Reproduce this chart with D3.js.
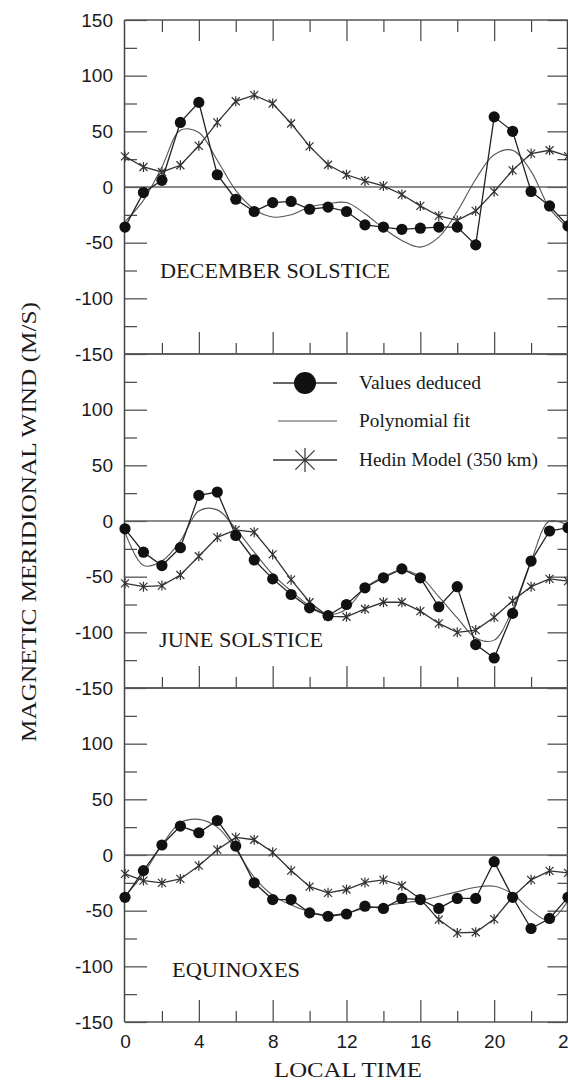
<!DOCTYPE html>
<html>
<head>
<meta charset="utf-8">
<script src="https://cdn.jsdelivr.net/npm/d3@7"></script>
<style>
  body { margin: 0; background: #fff; }
  svg { display: block; }
  .tick text { font-family: "Liberation Sans", Arial, sans-serif; font-size: 19px; fill: #1a1a1a; }
  .tick line { stroke: #444; stroke-width: 1.2; }
  .serif { font-family: "Liberation Serif", "Times New Roman", serif; fill: #1a1a1a; }
</style>
</head>
<body>
<div id="chart"></div>
<script>
// local time (hours)
var hours = [0, 1, 2, 3, 4, 5, 6, 7, 8, 9, 10, 11, 12, 13, 14, 15, 16, 17, 18, 19, 20, 21, 22, 23, 24];

// December solstice
var decDeduced = [-36, -5, 6, 58, 76, 11, -11, -22, -14, -13, -20, -18, -22, -34, -36, -38, -37, -36, -36, -52, 63, 50, -4, -17, -35];
var decFit = [-31, -12, 18, 51, 49, 24, -3, -20, -27, -25, -18, -15, -14, -24, -37, -48, -54, -45, -22, 7, 29, 33, 14, -19, -37];
var decHedin = [27.5, 18, 13.5, 19.5, 37, 58, 77, 82.5, 75, 57, 36.5, 20, 11, 5.5, 1, -6.7, -17, -26, -30, -21.5, -4.2, 15, 30, 33, 27.7];

// June solstice
var junDeduced = [-7, -28, -40, -24, 23, 26, -13, -35, -52, -66, -78, -85, -75, -60, -51, -43, -51, -77, -59, -111, -123, -83, -36, -9, -6];
var junFit = [-10, -40, -36, -18, 9, 10, -7, -28, -48, -63, -76, -84, -79, -60, -50, -44, -50, -68, -87, -105, -107, -79, -36, 0, -4];
var junHedin = [-56, -59, -58, -48.5, -31.7, -14.7, -8, -10, -30, -52.7, -73, -85.6, -86, -79, -73, -73, -81, -92, -100, -98, -86.5, -71.6, -59, -52, -54];

// Equinoxes
var equDeduced = [-38, -14, 9, 26, 20, 31, 8, -25, -40, -40, -52, -55, -53, -46, -48, -39, -40, -48, -39, -39, -6, -38, -66, -57, -38];
var equFit = [-37, -17, 9, 29, 32, 25, 5, -20, -36, -45, -51, -54, -52, -48, -46, -43, -41, -37, -33, -29, -28, -35, -50, -59, -41];
var equHedin = [-17, -23, -25, -21.5, -9.6, 4.8, 15.8, 13.7, 2.4, -14, -28.4, -34, -31, -24.6, -22.3, -27.6, -39.5, -58, -70, -69.4, -57.6, -37.7, -22.3, -14.3, -16];

var panelNames = ["DECEMBER SOLSTICE", "JUNE SOLSTICE", "EQUINOXES"];
var yMajor = [150, 100, 50, 0, -50, -100, -150];
var yMinor = [125, 75, 25, -25, -75, -125];
var xMajor = [4, 8, 12, 16, 20];
var xMinor = [2, 6, 10, 14, 18, 22];
var xLabels = [0, 4, 8, 12, 16, 20, 24];
var legendNames = ["Values deduced", "Polynomial fit", "Hedin Model (350 km)"];

var panels = [
    {name: panelNames[0], deduced: decDeduced, fit: decFit, hedin: decHedin},
    {name: panelNames[1], deduced: junDeduced, fit: junFit, hedin: junHedin},
    {name: panelNames[2], deduced: equDeduced, fit: equFit, hedin: equHedin}
];

var width = 568;
var height = 1081;
var left = 125;
var right = 568;
var top0 = 20;
var panelH = 334;

var svg = d3.select("#chart").append("svg").attr("width", width).attr("height", height);

var xScale = d3.scaleLinear().domain([0, 24]).range([left, right]);

function toPoints(vals){
    return vals.map(function(v, i){ return {"time": hours[i], "value": v}; });
}

function starPath(r){
    var d = r * 0.8;
    return "M" + (-d) + "," + (-d) + "L" + d + "," + d +
        "M" + (-d) + "," + d + "L" + d + "," + (-d) +
        "M0," + (-r) + "L0," + r;
}

// panel name placement
var nameX = [160, 159, 172];
var nameY = [278, 647, 977];
var nameLen = [230, 164, 128];

panels.forEach(function(p, pi){
    var pTop = top0 + pi * panelH;
    var pBot = pTop + panelH;
    var yScale = d3.scaleLinear().domain([-150, 150]).range([pBot, pTop]);
    var g = svg.append("g");

    // left axis, labels + major ticks
    var labels = pi == 0 ? yMajor : yMajor.slice(1);
    g.append("g").attr("transform", "translate(" + left + ",0)")
        .call(d3.axisLeft(yScale).tickValues(labels).tickSizeInner(-22).tickSizeOuter(0).tickPadding(12)
            .tickFormat(function(d){ return String(d); }))
        .select(".domain").remove();
    g.append("g").attr("transform", "translate(" + left + ",0)")
        .call(d3.axisLeft(yScale).tickValues(yMinor).tickSize(-12).tickFormat(""))
        .select(".domain").remove();

    // right axis
    g.append("g").attr("transform", "translate(567.5,0)")
        .call(d3.axisRight(yScale).tickValues(yMajor).tickSize(-20).tickFormat(""))
        .select(".domain").remove();
    g.append("g").attr("transform", "translate(567.5,0)")
        .call(d3.axisRight(yScale).tickValues(yMinor).tickSize(-10).tickFormat(""))
        .select(".domain").remove();

    // bottom ticks
    g.append("g").attr("transform", "translate(0," + pBot + ")")
        .call(d3.axisBottom(xScale).tickValues(xMajor).tickSize(-22).tickFormat(""))
        .select(".domain").remove();
    g.append("g").attr("transform", "translate(0," + pBot + ")")
        .call(d3.axisBottom(xScale).tickValues(xMinor).tickSize(-11).tickFormat(""))
        .select(".domain").remove();

    if (pi == 0) {
        g.append("g").attr("transform", "translate(0," + pTop + ")")
            .call(d3.axisTop(xScale).tickValues(xMajor).tickSize(-21).tickFormat(""))
            .select(".domain").remove();
        g.append("g").attr("transform", "translate(0," + pTop + ")")
            .call(d3.axisTop(xScale).tickValues(xMinor).tickSize(-12).tickFormat(""))
            .select(".domain").remove();
    }
    if (pi == 2) {
        g.append("g").attr("transform", "translate(0," + pBot + ")")
            .call(d3.axisBottom(xScale).tickValues(xLabels).tickSize(0).tickPadding(13))
            .select(".domain").remove();
    }

    // frame
    g.append("line").attr("x1", left - 0.5).attr("x2", left - 0.5).attr("y1", pTop).attr("y2", pBot)
        .attr("stroke", "#444").attr("stroke-width", 1.5);
    g.append("line").attr("x1", 567.5).attr("x2", 567.5).attr("y1", pTop).attr("y2", pBot)
        .attr("stroke", "#444").attr("stroke-width", 1.5);
    g.append("line").attr("x1", left - 0.5).attr("x2", width).attr("y1", pTop).attr("y2", pTop)
        .attr("stroke", "#555").attr("stroke-width", 1.5);
    g.append("line").attr("x1", left - 0.5).attr("x2", width).attr("y1", pBot).attr("y2", pBot)
        .attr("stroke", "#555").attr("stroke-width", 1.5);

    // zero line
    g.append("line").attr("x1", left).attr("x2", width).attr("y1", yScale(0)).attr("y2", yScale(0))
        .attr("stroke", "#666").attr("stroke-width", 1.6);

    var line = d3.line()
        .x(function(d){ return xScale(d["time"]); })
        .y(function(d){ return yScale(d["value"]); });
    var smooth = d3.line()
        .x(function(d){ return xScale(d["time"]); })
        .y(function(d){ return yScale(d["value"]); })
        .curve(d3.curveCatmullRom.alpha(0.5));

    var ded = toPoints(p.deduced);
    var fit = toPoints(p.fit);
    var hed = toPoints(p.hedin);

    g.append("path").datum(fit).attr("d", smooth)
        .attr("fill", "none").attr("stroke", "#555").attr("stroke-width", 1.1);
    g.append("path").datum(hed).attr("d", line)
        .attr("fill", "none").attr("stroke", "#333").attr("stroke-width", 1.3);
    g.append("path").datum(ded).attr("d", line)
        .attr("fill", "none").attr("stroke", "#222").attr("stroke-width", 1.3);

    g.selectAll(".star").data(hed).enter().append("path")
        .attr("class", "star")
        .attr("transform", function(d){ return "translate(" + xScale(d["time"]) + "," + yScale(d["value"]) + ")"; })
        .attr("d", starPath(5))
        .attr("fill", "none").attr("stroke", "#333").attr("stroke-width", 1.2);

    g.selectAll(".dot").data(ded).enter().append("circle")
        .attr("class", "dot")
        .attr("cx", function(d){ return xScale(d["time"]); })
        .attr("cy", function(d){ return yScale(d["value"]); })
        .attr("r", 5.6)
        .attr("fill", "#111");

    // panel name
    g.append("text").attr("class", "serif")
        .attr("x", nameX[pi]).attr("y", nameY[pi])
        .attr("font-size", 22)
        .attr("textLength", nameLen[pi]).attr("lengthAdjust", "spacingAndGlyphs")
        .text(p.name);
});

// legend (inside june panel)
var lg = svg.append("g");
var legY = [383, 421, 460];
lg.append("line").attr("x1", 273).attr("x2", 337).attr("y1", legY[0]).attr("y2", legY[0]).attr("stroke", "#333").attr("stroke-width", 1.3);
lg.append("circle").attr("cx", 305).attr("cy", legY[0]).attr("r", 11).attr("fill", "#111");
lg.append("line").attr("x1", 278).attr("x2", 337).attr("y1", legY[1]).attr("y2", legY[1]).attr("stroke", "#555").attr("stroke-width", 1.1);
lg.append("line").attr("x1", 273).attr("x2", 337).attr("y1", legY[2]).attr("y2", legY[2]).attr("stroke", "#333").attr("stroke-width", 1.3);
lg.append("path").attr("transform", "translate(305," + legY[2] + ")").attr("d", starPath(12))
    .attr("fill", "none").attr("stroke", "#333").attr("stroke-width", 1.2);
var legLen = [122, 111, 179];
legendNames.forEach(function(n, i){
    lg.append("text").attr("class", "serif")
        .attr("x", 359).attr("y", legY[i] + 6)
        .attr("font-size", 18)
        .attr("textLength", legLen[i]).attr("lengthAdjust", "spacingAndGlyphs")
        .text(n);
});

// axis titles
svg.append("text").attr("class", "serif")
    .attr("transform", "translate(36,522) rotate(-90)")
    .attr("text-anchor", "middle")
    .attr("font-size", 21)
    .attr("textLength", 440).attr("lengthAdjust", "spacingAndGlyphs")
    .text("MAGNETIC MERIDIONAL WIND (M/S)");

svg.append("text").attr("class", "serif")
    .attr("x", 348).attr("y", 1077)
    .attr("text-anchor", "middle")
    .attr("font-size", 22)
    .attr("textLength", 148).attr("lengthAdjust", "spacingAndGlyphs")
    .text("LOCAL TIME");
</script>
</body>
</html>
